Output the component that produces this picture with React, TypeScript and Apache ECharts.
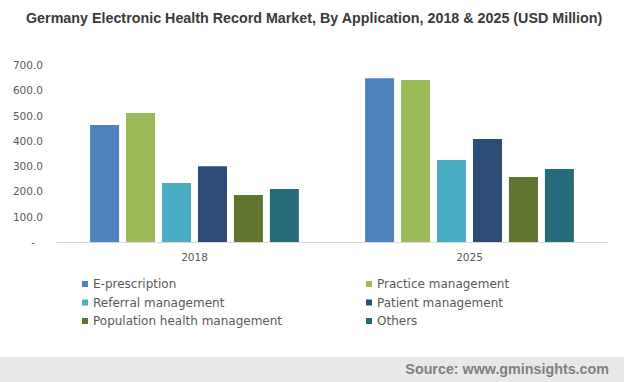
import React, { useEffect, useRef } from "react";
import * as echarts from "echarts";

const categories = ["2018", "2025"];
const seriesNames = [
  "E-prescription",
  "Practice management",
  "Referral management",
  "Patient management",
  "Population health management",
  "Others",
];
const ePrescription = [463, 648];
const practiceManagement = [510, 641];
const referralManagement = [233, 324];
const patientManagement = [300, 407];
const populationHealth = [186, 257];
const others = [210, 289];
const seriesValues = [
  ePrescription,
  practiceManagement,
  referralManagement,
  patientManagement,
  populationHealth,
  others,
];
const colors = ["#4F81BD", "#9BBB59", "#4BACC6", "#2C4D75", "#5F7530", "#276A7C"];

export default function App() {
  const ref = useRef<HTMLDivElement>(null);
  useEffect(() => {
    if (!ref.current) return;
    const chart = echarts.init(ref.current, null, { renderer: "svg" });
    const legendText = {
      fontFamily: "DejaVu Sans, Verdana, sans-serif",
      fontSize: 12,
      color: "#595959",
      lineHeight: 14,
    };
    chart.setOption({
      animation: false,
      backgroundColor: "#ffffff",
      title: {
        text: "Germany Electronic Health Record Market, By Application, 2018 & 2025 (USD Million)",
        left: 26,
        top: 11,
        padding: 0,
        textStyle: {
          fontFamily: "Liberation Sans, Arial, sans-serif",
          fontSize: 14.3,
          fontWeight: "bold",
          color: "#3a3a3a",
        },
      },
      grid: { left: 57, right: 17, top: 65, bottom: 140, containLabel: false },
      xAxis: {
        type: "category",
        data: categories,
        axisLine: { show: true, lineStyle: { color: "#d9d9d9", width: 1 } },
        axisTick: { show: false },
        axisLabel: {
          margin: 9,
          fontFamily: "DejaVu Sans, Verdana, sans-serif",
          fontSize: 10.5,
          color: "#595959",
        },
      },
      yAxis: {
        type: "value",
        min: 0,
        max: 700,
        interval: 100,
        axisLine: { show: false },
        axisTick: { show: false },
        splitLine: { show: false },
        axisLabel: {
          margin: 14,
          fontFamily: "DejaVu Sans, Verdana, sans-serif",
          fontSize: 10.5,
          color: "#595959",
          formatter: (v: number) => (v === 0 ? "{d|-}" : v.toFixed(1)),
          rich: {
            d: {
              fontFamily: "DejaVu Sans, Verdana, sans-serif",
              fontSize: 10.5,
              color: "#595959",
              padding: [0, 8, 0, 0],
            },
          },
        },
      },
      legend: [
        {
          orient: "vertical",
          left: 82,
          top: 277,
          itemWidth: 6,
          itemHeight: 6,
          itemGap: 4.5,
          icon: "rect",
          padding: 0,
          data: [seriesNames[0], seriesNames[2], seriesNames[4]],
          textStyle: legendText,
        },
        {
          orient: "vertical",
          left: 366,
          top: 277,
          itemWidth: 6,
          itemHeight: 6,
          itemGap: 4.5,
          icon: "rect",
          padding: 0,
          data: [seriesNames[1], seriesNames[3], seriesNames[5]],
          textStyle: legendText,
        },
      ],
      series: seriesNames.map((name, i) => ({
        name,
        type: "bar",
        data: seriesValues[i],
        barWidth: 29,
        barGap: "24%",
        itemStyle: { color: colors[i] },
      })),
      graphic: [
        {
          type: "rect",
          left: 0,
          top: 357,
          shape: { x: 0, y: 0, width: 624, height: 25 },
          style: { fill: "#e8e8e8" },
          silent: true,
        },
        {
          type: "text",
          x: 609,
          y: 369,
          style: {
            text: "Source: www.gminsights.com",
            textAlign: "right",
            textVerticalAlign: "middle",
            fontFamily: "Liberation Sans, Arial, sans-serif",
            fontSize: 14.3,
            fontWeight: "bold",
            fill: "#7f7f7f",
          },
        },
      ],
    });
    return () => chart.dispose();
  }, []);
  return (
    <div
      ref={ref}
      style={{ position: "fixed", left: 0, top: 0, width: 624, height: 382 }}
    />
  );
}
